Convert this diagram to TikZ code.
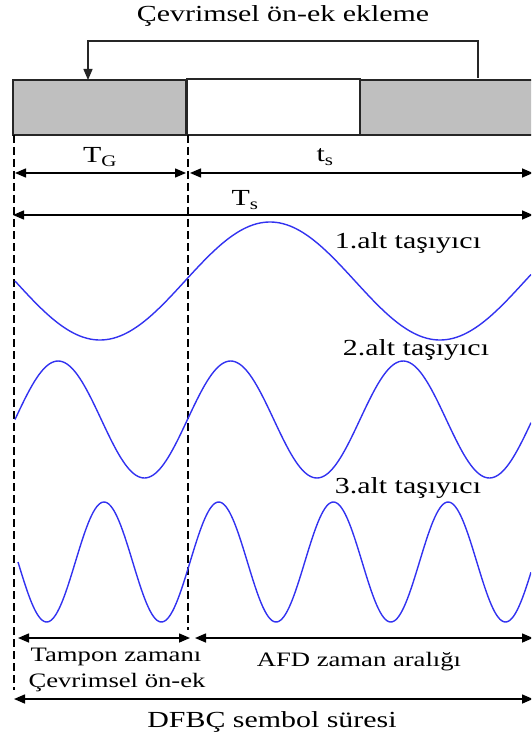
\documentclass[tikz,border=0pt]{standalone}
\usepackage{fontspec}
\setmainfont[FakeStretch=1.3]{Liberation Serif}
\usetikzlibrary{arrows.meta, positioning, calc}
\definecolor{wavec}{RGB}{50,50,240}

\begin{document}
\begin{tikzpicture}[
    x=1pt, y=1pt, font=\fontsize{23}{25}\selectfont,
    dim/.style={{Triangle[length=11pt,width=9pt]}-{Triangle[length=11pt,width=9pt]}, line width=1.5pt},
    feed/.style={-{Triangle[length=11pt,width=9pt]}, line width=1.3pt, draw=black!85},
    guide/.style={line width=1.2pt, dash pattern=on 8pt off 4pt},
    cpbox/.style={fill=black!25, draw=black!85, line width=1.3pt},
    databox/.style={fill=white, draw=black!85, line width=1.3pt},
    wave/.style={draw=wavec, line width=1.4pt},
    lbl/.style={inner sep=1pt},
    small/.style={inner sep=1pt, font=\fontsize{20.5}{22}\selectfont}
]
\useasboundingbox (0,0) rectangle (531,-743);
\clip (0,0) rectangle (531,-743);

% ---- symbol blocks ----
\draw[cpbox] (13,-80) rectangle (186,-135);
\draw[databox] (187,-79) rectangle (360,-135);
\draw[cpbox] (360,-80) rectangle (545,-135);

% ---- cyclic prefix copy ----
\node[lbl] (title) at (283,-16) {Çevrimsel ön-ek ekleme};
\coordinate (src) at (478,-78);
\coordinate (dst) at (88,-80);
\draw[feed] (src) -- ++(0,37) -| (dst);

% ---- guide lines ----
\coordinate (L) at (14,-135);
\coordinate (M) at (188,-135);
\draw[guide] (L) -- (14,-690);
\draw[guide] (M) -- (188,-630);

% ---- durations ----
\coordinate (tgL) at (15,-173);
\coordinate (tgR) at (186,-173);
\coordinate (tsL) at (190,-173);
\coordinate (tsR) at (533,-173);
\coordinate (TsL) at (13,-215);
\coordinate (TsR) at (533,-215);
\draw[dim] (tgL) -- (tgR);
\draw[dim] (tsL) -- (tsR);
\draw[dim] (TsL) -- (TsR);
\node[lbl] (tg) at (100,-157) {T\textsubscript{G}};
\node[lbl] (ts) at (325,-157) {t\textsubscript{s}};
\node[lbl] (Ts) at (245,-200) {T\textsubscript{s}};

% ---- subcarriers ----
\draw[wave] plot[domain=15:531, samples=200] (\x, {-281-59*sin(1.058824*(\x-15))});
\draw[wave] plot[domain=15:531, samples=240] (\x, {-419.5+58.5*sin(2.086957*(\x-15))});
\draw[wave] plot[domain=18:531, samples=300] (\x, {-562-60*sin(3.138622*(\x-18))});
\node[lbl] (sc1) at (408,-243) {1.alt taşıyıcı};
\node[lbl] (sc2) at (416,-350) {2.alt taşıyıcı};
\node[lbl] (sc3) at (408,-488) {3.alt taşıyıcı};

% ---- guard / FFT interval ----
\coordinate (gL) at (18,-638);
\coordinate (gR) at (190,-638);
\coordinate (fL) at (195,-638);
\coordinate (fR) at (533,-638);
\draw[dim] (gL) -- (gR);
\draw[dim] (fL) -- (fR);
\node[small] (guard) at (116,-657) {Tampon zamanı};
\node[small] (cp) at (117,-683) {Çevrimsel ön-ek};
\node[small] (fft) at (359,-662) {AFD zaman aralığı};

% ---- whole symbol ----
\coordinate (sL) at (14,-699);
\coordinate (sR) at (533,-699);
\draw[dim] (sL) -- (sR);
\node[lbl] (sym) at (272,-722) {DFBÇ sembol süresi};

\end{tikzpicture}
\end{document}
